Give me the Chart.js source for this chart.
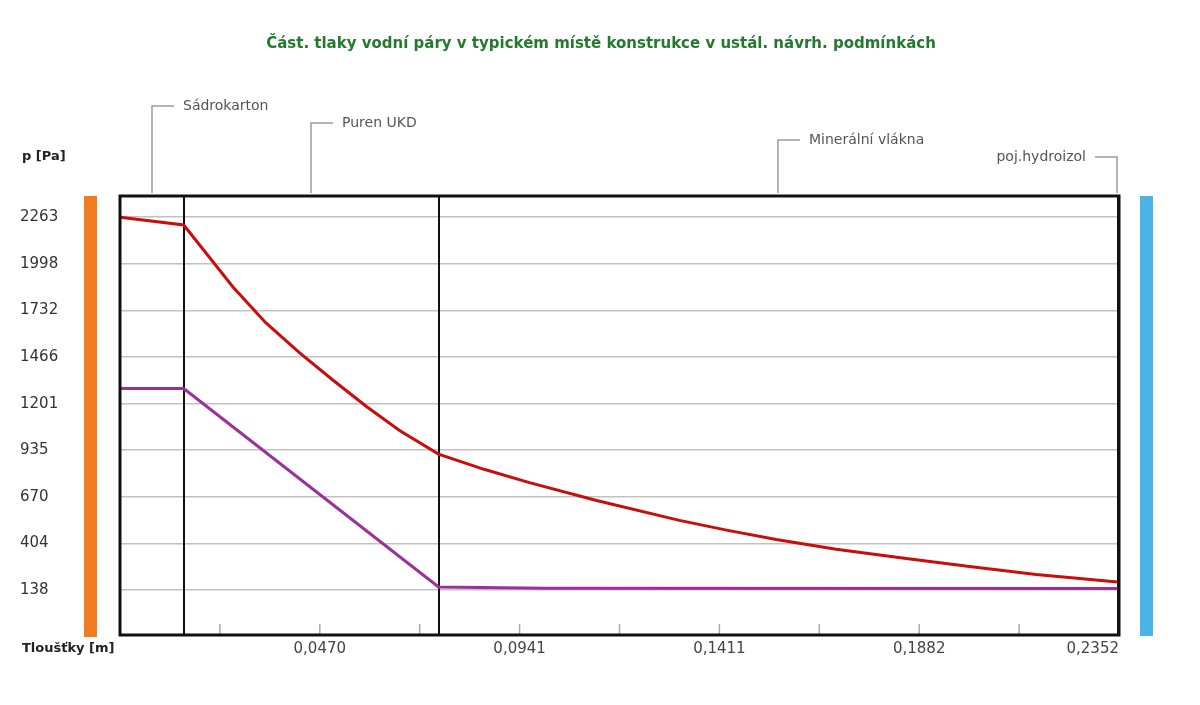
<!DOCTYPE html>
<html><head><meta charset="utf-8">
<script src="https://cdn.jsdelivr.net/npm/chart.js@4/dist/chart.umd.min.js"></script>
<style>html,body{margin:0;padding:0;background:#fff}</style>
</head><body>
<canvas id="c" width="1200" height="705"></canvas>
<script>
// ---- data ----
const chartTitle = 'Část. tlaky vodní páry v typickém místě konstrukce v ustál. návrh. podmínkách';
const yAxisTitle = 'p [Pa]';
const xAxisTitle = 'Tloušťky [m]';
const layerNames = ['Sádrokarton', 'Puren UKD', 'Minerální vlákna', 'poj.hydroizol'];
const layerBounds = [0, 0.015, 0.075, 0.235, 0.2352];

// saturated water vapour pressure (red)
const satX = [0, 0.015, 0.0266, 0.0343, 0.0423, 0.0501, 0.0581, 0.0659, 0.075,
              0.0857, 0.0964, 0.1122, 0.1317, 0.1431, 0.1545, 0.1686, 0.1842, 0.2, 0.2157, 0.2336, 0.2352];
const satY = [2263, 2219, 1865, 1662, 1490, 1335, 1183, 1046, 913,
              826, 750, 648, 535, 478, 426, 370, 320, 272, 226, 187, 184];
// partial water vapour pressure (purple)
const parX = [0, 0.015, 0.075, 0.1, 0.2352];
const parY = [1286, 1286, 155, 148, 146];

const yTickValues = [138, 403.625, 669.25, 934.875, 1200.5, 1466.125, 1731.75, 1997.375, 2263];
const yTickLabels = ['138', '404', '670', '935', '1201', '1466', '1732', '1998', '2263'];
const xTickValues = [0, 0.02352, 0.04704, 0.07056, 0.09408, 0.1176, 0.14112, 0.16464, 0.18816, 0.21168, 0.2352];
const xTickLabels = ['', '', '0,0470', '', '0,0941', '', '0,1411', '', '0,1882', '', '0,2352'];

const yMin = -118.5, yMax = 2384;

const FONT = '"DejaVu Sans", Arial, sans-serif';

const decor = {
  id: 'decor',
  beforeDatasetsDraw(chart) {
    const {ctx, chartArea: a, scales: {x}} = chart;
    ctx.save();
    // inner tick marks on bottom
    ctx.strokeStyle = '#aaaaaa';
    ctx.lineWidth = 1.5;
    x.ticks.forEach(t => {
      const px = x.getPixelForValue(t.value);
      if (px <= a.left + 2 || px >= a.right - 2) return;
      ctx.beginPath(); ctx.moveTo(px, a.bottom); ctx.lineTo(px, a.bottom - 11); ctx.stroke();
    });
    // layer boundaries
    ctx.strokeStyle = '#111';
    ctx.lineWidth = 2;
    for (let i = 1; i < layerBounds.length - 1; i++) {
      const px = Math.round(x.getPixelForValue(layerBounds[i]));
      ctx.beginPath(); ctx.moveTo(px, a.top); ctx.lineTo(px, a.bottom); ctx.stroke();
    }
    ctx.restore();
  },
  afterDatasetsDraw(chart) {
    const {ctx, chartArea: a, scales: {x}} = chart;
    ctx.save();
    // frame
    ctx.strokeStyle = '#111';
    ctx.lineWidth = 3;
    ctx.strokeRect(a.left, a.top, a.right - a.left, a.bottom - a.top);
    // side bars (interior / exterior)
    ctx.fillStyle = '#f47c20';
    ctx.fillRect(a.left - 36, a.top, 13, a.bottom - a.top + 2);
    ctx.fillStyle = '#4ab4e6';
    ctx.fillRect(a.right + 21, a.top, 13, a.bottom - a.top + 1);
    // chart title
    ctx.font = 'bold 15px ' + FONT;
    ctx.fillStyle = '#237a2d';
    ctx.textAlign = 'center';
    ctx.textBaseline = 'middle';
    ctx.fillText(chartTitle, 601, 44);
    // layer annotations
    ctx.font = '14px ' + FONT;
    ctx.fillStyle = '#555';
    ctx.strokeStyle = '#9a9a9a';
    ctx.lineWidth = 1.5;
    for (let i = 0; i < layerNames.length; i++) {
      const mid = (layerBounds[i] + layerBounds[i + 1]) / 2;
      let px = Math.round(x.getPixelForValue(mid));
      const py = a.top - 90 + i * 17;
      const last = i === layerNames.length - 1;
      if (last) px = Math.min(px, a.right - 2);
      ctx.beginPath();
      ctx.moveTo(px, a.top - 3);
      ctx.lineTo(px, py);
      ctx.lineTo(last ? px - 22 : px + 22, py);
      ctx.stroke();
      if (last) { ctx.textAlign = 'right'; ctx.fillText(layerNames[i], px - 31, py); }
      else { ctx.textAlign = 'left'; ctx.fillText(layerNames[i], px + 31, py); }
    }
    // axis titles
    ctx.font = 'bold 13px ' + FONT;
    ctx.fillStyle = '#222';
    ctx.textAlign = 'left';
    ctx.fillText(yAxisTitle, 22, a.top - 39);
    ctx.fillText(xAxisTitle, 22, a.bottom + 14);
    ctx.restore();
  }
};

new Chart(document.getElementById('c'), {
  type: 'line',
  data: {
    datasets: [
      { label: 'p,sat', data: satX.map((v, i) => ({x: v, y: satY[i]})),
        borderColor: '#c80d0d', borderWidth: 3, pointRadius: 0, tension: 0, fill: false },
      { label: 'p', data: parX.map((v, i) => ({x: v, y: parY[i]})),
        borderColor: '#9b2f9b', borderWidth: 3, pointRadius: 0, tension: 0, fill: false }
    ]
  },
  options: {
    responsive: false,
    devicePixelRatio: 1,
    animation: false,
    layout: { padding: { left: 20, right: 81, top: 196, bottom: 0 } },
    plugins: {
      legend: { display: false },
      tooltip: { enabled: false },
      title: { display: false }
    },
    scales: {
      x: {
        type: 'linear', min: 0, max: 0.2352,
        afterBuildTicks: ax => { ax.ticks = xTickValues.map(v => ({value: v})); },
        afterFit: ax => { ax.height = 70; },
        ticks: {
          callback: (v, i) => xTickLabels[i],
          align: 'inner', maxRotation: 0, autoSkip: false, padding: 5,
          color: '#444', font: { family: FONT, size: 15 }
        },
        grid: { display: false, drawTicks: false },
        border: { display: false }
      },
      y: {
        type: 'linear', min: yMin, max: yMax,
        afterBuildTicks: ax => { ax.ticks = yTickValues.map(v => ({value: v})); },
        afterFit: ax => { ax.width = 100; },
        ticks: {
          callback: (v, i) => yTickLabels[i],
          crossAlign: 'far', autoSkip: false,
          color: '#333', font: { family: FONT, size: 15 }
        },
        grid: { color: '#c2c2c2', lineWidth: 1.5, drawTicks: false },
        border: { display: false }
      }
    }
  },
  plugins: [decor]
});
</script>
</body></html>
